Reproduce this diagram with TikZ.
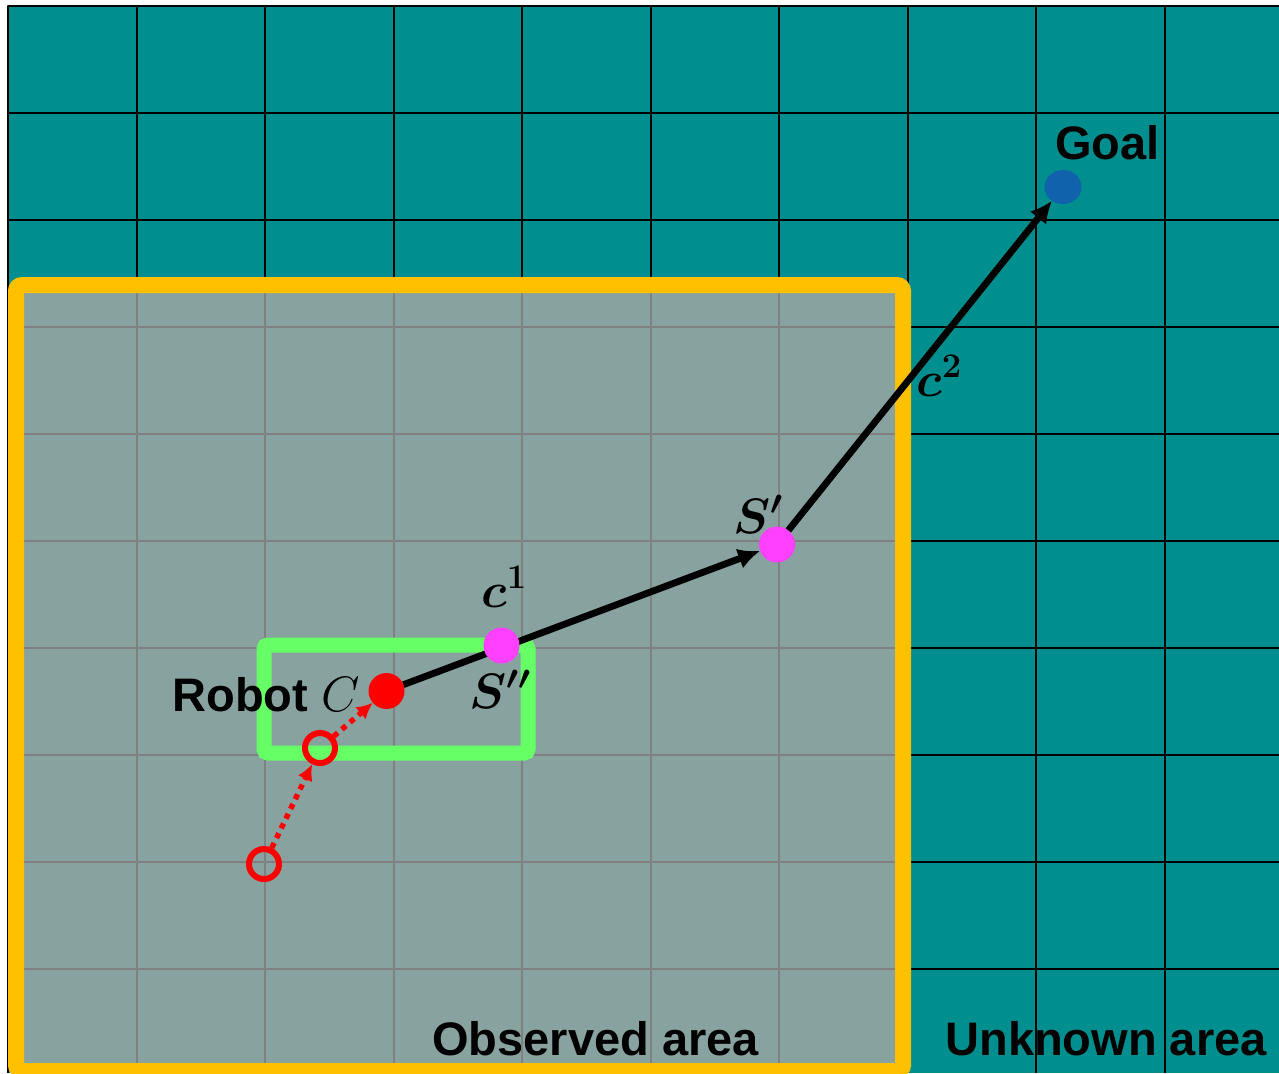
\documentclass[tikz,border=0pt]{standalone}
\usepackage{fontspec}
\setmainfont{Liberation Sans}
\usetikzlibrary{arrows.meta,shapes.geometric}
\definecolor{teal0}{RGB}{0,142,142}
\definecolor{obsgray}{RGB}{136,162,160}
\definecolor{yel}{RGB}{255,192,0}
\definecolor{grn}{RGB}{102,255,102}
\definecolor{mag}{RGB}{255,64,255}
\definecolor{goalblue}{RGB}{16,98,172}
\definecolor{gridgray}{RGB}{128,128,128}
\pgfdeclarelayer{base}
\pgfdeclarelayer{lines}
\pgfsetlayers{base,lines,main}
\begin{document}
\begin{tikzpicture}[x=0.5pt,y=-0.5pt,
  lbl/.style={inner sep=0pt, anchor=base west, font=\fontsize{23.5}{28}\selectfont\bfseries},
  mlbl/.style={inner sep=0pt, anchor=base west, font=\fontsize{25}{30}\selectfont\boldmath},
  dot/.style={circle, inner sep=0pt, minimum size=18pt, outer sep=0pt},
  ring/.style={circle, draw=red, line width=3pt, inner sep=0pt, minimum size=15pt},
  pathline/.style={line width=3.4pt, -{Latex[length=11pt,width=10.5pt]}},
  trail/.style={red, line width=2.7pt, dash pattern=on 2.7pt off 2.7pt, -{Latex[length=8pt,width=8pt]}},
  blackgrid/.style={black, line width=1pt},
  graygrid/.style={gridgray, line width=1pt},
]
\useasboundingbox (0,0) rectangle (1279,1073);
\begin{pgfonlayer}{base}
\begin{scope}
\clip (0,0) rectangle (1279,1073);
\fill[teal0] (7,5) rectangle (1279,1073);
\node[lbl] (unk) at (945,1055) {Unknown area};
\foreach \i in {0,...,9} {
  \draw[blackgrid] ({8+128.5*\i},5.5) -- ({8+128.5*\i},1073);
  \draw[blackgrid] (7.5,{6+107*\i}) -- (1279,{6+107*\i});
}
\fill[obsgray] (16,285) rectangle (903,1071);
\node[lbl] (obs) at (432,1055) {Observed area};
\begin{scope}
\clip (16,285) rectangle (903,1071);
\foreach \i in {0,...,9} {
  \draw[graygrid] ({8+128.5*\i},0) -- ({8+128.5*\i},1073);
  \draw[graygrid] (0,{6+107*\i}) -- (1279,{6+107*\i});
}
\end{scope}
\draw[yel, line width=8pt, rounded corners=3pt] (16,285) rectangle (903,1071);
\draw[grn, line width=7.5pt, rounded corners=2pt] (264,645) rectangle (528,753);
\end{scope}
\end{pgfonlayer}

% points
\node[dot, fill=red] (C) at (386.5,691) {};
\node[dot, fill=mag] (Spp) at (501.5,645.5) {};
\node[dot, fill=mag] (Sp) at (777,544.5) {};
\node[ellipse, fill=goalblue, inner sep=0pt, minimum width=18.5pt, minimum height=17pt, outer sep=0pt] (G) at (1063,187) {};
\node[ring] (R1) at (320,748) {};
\node[ring] (R2) at (264,864) {};

\begin{pgfonlayer}{lines}
\draw[pathline] (C) -- (Sp);
\draw[pathline] (Sp) -- (G);
\draw[trail] (R2) -- (R1);
\draw[trail] (R1) -- (C);
\end{pgfonlayer}

% labels
\node[lbl] (robot) at (172,711) {Robot \fontsize{24}{28}\selectfont$C$};
\node[lbl] (goal) at (1055,159) {Goal};
\node[mlbl] (lc1) at (481,607) {$c^{1}$};
\node[mlbl] (lc2) at (916,396) {$c^{2}$};
\node[mlbl] (lspp) at (469,708) {$S''$};
\node[mlbl] (lsp) at (733,533) {$S'$};
\end{tikzpicture}
\end{document}
